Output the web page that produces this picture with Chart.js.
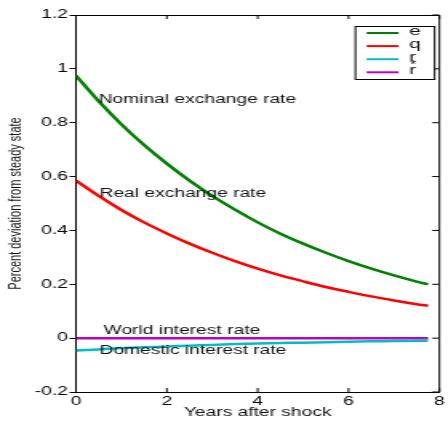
<!DOCTYPE html>
<html>
<head>
<meta charset="utf-8">
<script src="https://cdn.jsdelivr.net/npm/chart.js@4.4.1/dist/chart.umd.min.js"></script>
<style>
  html, body { margin: 0; padding: 0; background: #fff; }
</style>
</head>
<body>
<!-- the reference is stretched sideways, so draw narrow and let the inline size widen it -->
<canvas id="chart" width="280" height="424" style="display:block;width:448px;height:424px"></canvas>
<script>
const years = [0, 0.5, 1, 1.5, 2, 2.5, 3, 3.5, 4, 4.5, 5, 5.5, 6, 6.5, 7, 7.5, 7.75];
const eValues = [0.975, 0.880, 0.794, 0.717, 0.648, 0.585, 0.528, 0.477, 0.430, 0.388, 0.351, 0.317, 0.286, 0.258, 0.233, 0.210, 0.200];
const qValues = [0.585, 0.528, 0.476, 0.430, 0.389, 0.351, 0.317, 0.286, 0.258, 0.233, 0.211, 0.190, 0.172, 0.155, 0.140, 0.126, 0.120];
const rStarValues = [-0.046, -0.042, -0.037, -0.034, -0.031, -0.028, -0.025, -0.022, -0.020, -0.018, -0.017, -0.015, -0.013, -0.012, -0.011, -0.010, -0.009];
const rValues = [0, 0, 0, 0, 0, 0, 0, 0, 0, 0, 0, 0, 0, 0, 0, 0, 0];
const seriesNames = ["e", "q", "r*", "r"];
const seriesColors = ["#008000", "#ff0000", "#00bfbf", "#bf00bf"];
const curveNotes = ["Nominal exchange rate", "Real exchange rate", "World interest rate", "Domestic interest rate"];
const noteSpots = [[0.5, 0.885], [0.52, 0.535], [0.61, 0.026], [0.52, -0.045]];

const FONT = '"Liberation Sans", Arial, Helvetica, sans-serif';

function toPoints(vals) {
  return years.map((x, i) => ({ x: x, y: vals[i] }));
}

const matlabBox = {
  id: "matlabBox",
  afterDatasetsDraw(chart) {
    const { ctx, chartArea: a, scales: { x, y } } = chart;
    ctx.save();
    ctx.strokeStyle = "#000";
    ctx.lineWidth = 1;
    ctx.beginPath();
    ctx.moveTo(a.left, a.top + 0.5);
    ctx.lineTo(a.right, a.top + 0.5);
    ctx.lineTo(a.right, a.bottom);
    x.ticks.forEach(t => {
      const px = x.getPixelForValue(t.value);
      ctx.moveTo(px, a.top);
      ctx.lineTo(px, a.top + 4);
      ctx.moveTo(px, a.bottom);
      ctx.lineTo(px, a.bottom - 4);
    });
    y.ticks.forEach(t => {
      const py = y.getPixelForValue(t.value);
      ctx.moveTo(a.right, py);
      ctx.lineTo(a.right - 4.5, py);
    });
    ctx.stroke();

    // curve labels
    ctx.fillStyle = "#111";
    ctx.font = "12px " + FONT;
    ctx.textBaseline = "middle";
    ctx.textAlign = "left";
    curveNotes.forEach((txt, i) => {
      ctx.fillText(txt, x.getPixelForValue(noteSpots[i][0]), y.getPixelForValue(noteSpots[i][1]));
    });
    ctx.restore();
  },
  afterDraw(chart) {
    const { ctx, chartArea: a } = chart;
    const left = a.right - 53, top = a.top + 11, w = 49.5, h = 53;
    ctx.save();
    ctx.fillStyle = "#fff";
    ctx.fillRect(left, top, w, h);
    ctx.strokeStyle = "#000";
    ctx.lineWidth = 1;
    ctx.strokeRect(left + 0.5, top + 0.5, w, h);
    ctx.font = "13px " + FONT;
    ctx.textBaseline = "middle";
    ctx.textAlign = "left";
    chart.data.datasets.forEach((ds, i) => {
      const ly = top + 7 + i * 13.1;
      ctx.strokeStyle = ds.borderColor;
      ctx.lineWidth = 2;
      ctx.beginPath();
      ctx.moveTo(left + 7.5, ly);
      ctx.lineTo(left + 27.5, ly);
      ctx.stroke();
      ctx.fillStyle = "#111";
      const name = ds.label;
      if (name.endsWith("*")) {
        const base = name.slice(0, -1);
        ctx.fillText(base, left + 34, ly - 2);
        ctx.font = "10px " + FONT;
        ctx.fillText("*", left + 34.5, ly + 6.5);
        ctx.font = "13px " + FONT;
      } else {
        ctx.fillText(name, left + 34, ly - 2);
      }
    });
    ctx.restore();
  }
};

const seriesData = [eValues, qValues, rStarValues, rValues];

new Chart(document.getElementById("chart"), {
  type: "line",
  data: {
    datasets: seriesData.map((vals, i) => ({
      label: seriesNames[i],
      data: toPoints(vals),
      borderColor: seriesColors[i],
      backgroundColor: seriesColors[i],
      borderWidth: 2.5,
      pointRadius: 0,
      tension: 0.3,
      fill: false
    }))
  },
  options: {
    responsive: false,
    animation: false,
    events: [],
    layout: { padding: { left: 0, right: 3.1, top: 15, bottom: 0 } },
    plugins: {
      legend: { display: false },
      tooltip: { enabled: false }
    },
    scales: {
      x: {
        type: "linear",
        min: 0,
        max: 8,
        afterFit(scale) { scale.height = 32; },
        ticks: {
          stepSize: 2,
          color: "#000",
          padding: 2,
          maxRotation: 0,
          font: { family: FONT, size: 12 }
        },
        grid: { drawOnChartArea: false, drawTicks: false },
        border: { display: true, color: "#000", width: 1 },
        title: {
          display: true,
          text: "Years after shock",
          color: "#111",
          font: { family: FONT, size: 12 },
          padding: { top: 0, bottom: 3.8 }
        }
      },
      y: {
        min: -0.2,
        max: 1.2,
        afterFit(scale) { scale.width = 47.5; },
        ticks: {
          stepSize: 0.2,
          color: "#000",
          padding: 1,
          font: { family: FONT, size: 12 },
          callback: v => Math.abs(v) < 1e-9 ? "0" : String(parseFloat(v.toFixed(1)))
        },
        grid: { drawOnChartArea: false, drawTicks: true, tickLength: 4, color: "#000" },
        border: { display: true, color: "#000", width: 1 },
        title: {
          display: true,
          text: "Percent deviation from steady state",
          color: "#111",
          font: { family: FONT, size: 11 },
          padding: { top: 3, bottom: 0 }
        }
      }
    }
  },
  plugins: [matlabBox]
});
</script>
</body>
</html>
